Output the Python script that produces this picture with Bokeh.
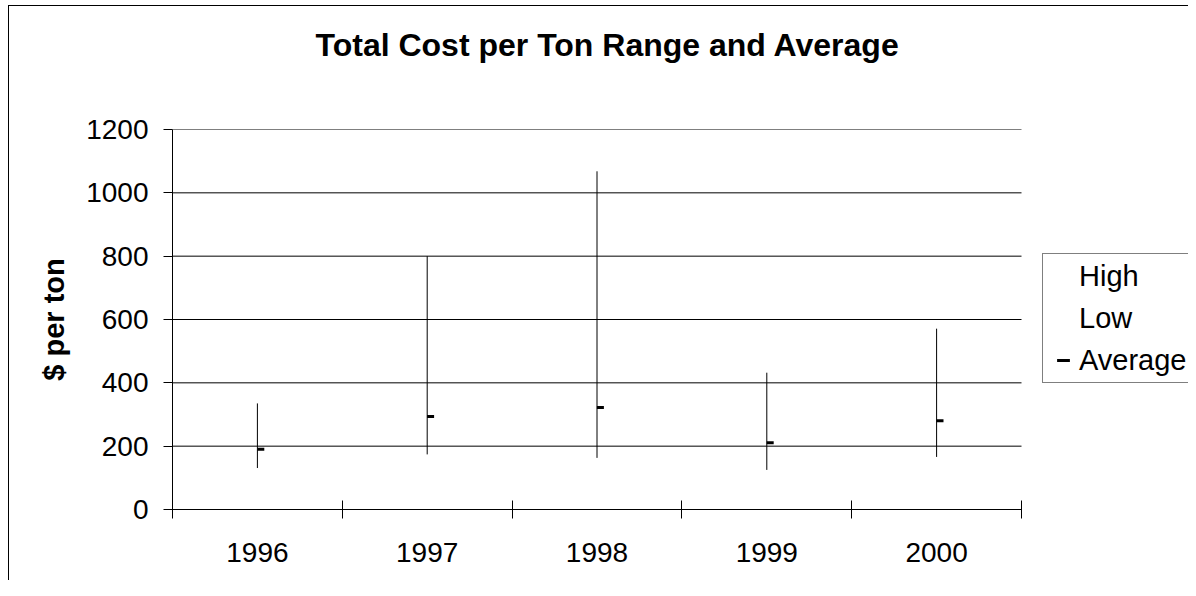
from bokeh.plotting import figure
from bokeh.models import Range1d, FixedTicker, Legend, LegendItem, ColumnDataSource, Title
from bokeh.transform import dodge
from bokeh.embed import file_html
from bokeh.resources import INLINE

years = ["1996", "1997", "1998", "1999", "2000"]
high = [335, 800, 1068, 432, 571]
low = [131, 174, 163, 125, 166]
average = [190, 294, 322, 211, 280]
y_ticks = [0, 200, 400, 600, 800, 1000, 1200]

FONT = "Liberation Sans"

W, H = 1188, 580
LEFT, TOP, BOTTOM = 172, 129, 71
PLOT_W = 849  # width of the category area in px

n = len(years)
xpos = [i + 0.5 for i in range(n)]
bounds = list(range(n + 1))
src = ColumnDataSource(dict(x=xpos, high=high, low=low, avg=average))

# frame extends to the right canvas edge so the legend can sit there
x_end = n * (W - LEFT) / PLOT_W

p = figure(width=W, height=H, output_backend="svg", toolbar_location=None,
           x_range=Range1d(0, x_end), y_range=Range1d(0, 1200),
           min_border_left=LEFT, min_border_right=0,
           min_border_top=TOP, min_border_bottom=BOTTOM)

p.outline_line_color = None
p.border_fill_color = None
p.background_fill_color = "white"
p.styles = {
    "background-color": "white",
    "background-image": "linear-gradient(black, black), linear-gradient(black, black)",
    "background-size": "1px 100%, 100% 1px",
    "background-position": "8px 5px, 8px 5px",
    "background-repeat": "no-repeat",
}

# Title
p.title.text = "Total Cost per Ton Range and Average"
p.title.align = "left"
p.title.offset = 143
p.title.vertical_align = "top"
p.title.text_font = FONT
p.title.text_font_size = "32px"
p.title.text_font_style = "bold"
p.title.text_color = "black"
p.title.standoff = 0
# spacer between the title and the plot area
p.add_layout(Title(text=" ", text_font_size="10px", standoff=52), "above")

# X axis
xa = p.xaxis[0]
xa.bounds = (0, n)
xa.ticker = FixedTicker(ticks=xpos, minor_ticks=bounds)
xa.major_label_overrides = {x: y for x, y in zip(xpos, years)}
xa.major_tick_line_color = None
xa.major_tick_in = 0
xa.major_tick_out = 0
xa.minor_tick_in = 9
xa.minor_tick_out = 9
xa.minor_tick_line_color = "black"
xa.axis_line_color = "black"
xa.major_label_text_font = FONT
xa.major_label_text_font_size = "28px"
xa.major_label_text_color = "black"
xa.major_label_standoff = 24
p.xgrid.visible = False

# Y axis
ya = p.yaxis[0]
ya.ticker = FixedTicker(ticks=y_ticks)
ya.major_tick_in = 0
ya.major_tick_out = 9
ya.major_tick_line_color = "black"
ya.minor_tick_line_color = None
ya.axis_line_color = "black"
ya.major_label_text_font = FONT
ya.major_label_text_font_size = "28px"
ya.major_label_text_color = "black"
ya.major_label_standoff = 15
ya.axis_label = "$ per ton"
ya.axis_label_text_font = FONT
ya.axis_label_text_font_size = "29px"
ya.axis_label_text_font_style = "bold"
ya.axis_label_text_color = "black"
ya.axis_label_standoff = 13
p.ygrid.visible = False

# horizontal gridlines limited to the category area
grid_y = y_ticks[1:]
p.segment(x0=[0] * len(grid_y), x1=[n] * len(grid_y), y0=grid_y, y1=grid_y,
          line_color="black", line_width=1)

# High-low lines
p.segment(x0="x", y0="low", x1="x", y1="high", source=src,
          line_color="black", line_width=1)

# invisible renderers for legend entries High / Low
hr = p.scatter(x="x", y="high", source=src, size=1, fill_alpha=0, line_alpha=0)
lr = p.scatter(x="x", y="low", source=src, size=1, fill_alpha=0, line_alpha=0)

# Average markers
ar = p.scatter(x=dodge("x", 0.02), y="avg", source=src, marker="dash",
               size=7, line_color="black", line_width=3)

legend = Legend(items=[LegendItem(label="High", renderers=[hr]),
                       LegendItem(label="Low", renderers=[lr]),
                       LegendItem(label="Average", renderers=[ar])],
                location=(870, 126))
legend.border_line_color = "black"
legend.border_line_width = 1
legend.background_fill_color = "white"
legend.background_fill_alpha = 1
legend.padding = 4
legend.margin = 0
legend.spacing = 6
legend.glyph_width = 32
legend.glyph_height = 36
legend.label_height = 36
legend.label_width = 112
legend.label_standoff = 0
legend.label_text_font = FONT
legend.label_text_font_size = "29px"
legend.label_text_color = "black"
p.add_layout(legend)

open("out.html", "w").write(file_html(p, INLINE))
